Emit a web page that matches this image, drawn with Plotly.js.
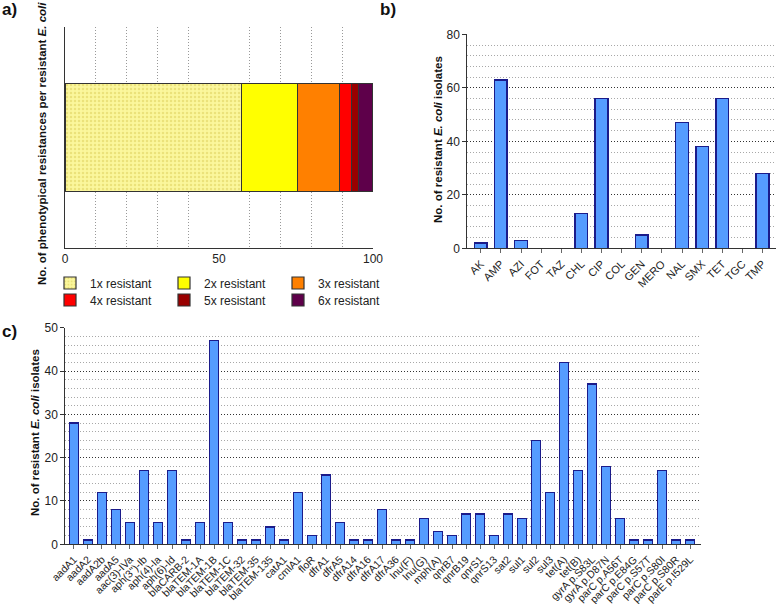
<!DOCTYPE html>
<html>
<head>
<meta charset="utf-8">
<script src="https://cdn.plot.ly/plotly-3.0.1.min.js"></script>
<style>
  html, body { margin: 0; padding: 0; background: #fff; }
  #chart { width: 777px; height: 604px; }
</style>
</head>
<body>
<div id="chart"></div>
<script>
// ---- a) phenotypical resistance count (share of resistant isolates, %) ----
const resistLevels = ['1x resistant', '2x resistant', '3x resistant', '4x resistant', '5x resistant', '6x resistant'];
const resistShare = [57.4, 18.1, 13.5, 3.9, 2.3, 4.8];
const resistColors = ['#fbf79c', '#ffff00', '#ff8000', '#ff0000', '#990000', '#5e004a'];

// ---- b) phenotypic resistance per antimicrobial ----
const drugs = ['AK', 'AMP', 'AZI', 'FOT', 'TAZ', 'CHL', 'CIP', 'COL', 'GEN', 'MERO', 'NAL', 'SMX', 'TET', 'TGC', 'TMP'];
const drugCounts = [2, 63, 3, 0, 0, 13, 56, 0, 5, 0, 47, 38, 56, 0, 28];

// ---- c) resistance genes and point mutations ----
const genes = ['aadA1', 'aadA2', 'aadA2b', 'aadA5', 'aac(3)-IVa', "aph(3'')-Ib", 'aph(4)-Ia', 'aph(6)-Id',
  'blaCARB-2', 'blaTEM-1A', 'blaTEM-1B', 'blaTEM-1C', 'blaTEM-32', 'blaTEM-35', 'blaTEM-135',
  'catA1', 'cmlA1', 'floR', 'dfrA1', 'dfrA5', 'dfrA14', 'dfrA16', 'dfrA17', 'dfrA36',
  'lnu(F)', 'lnu(G)', 'mph(A)', 'qnrB7', 'qnrB19', 'qnrS1', 'qnrS13', 'sat2', 'sul1', 'sul2', 'sul3',
  'tet(A)', 'tet(B)', 'gyrA p.S83L', 'gyrA p.D87N', 'parC p.A56T', 'parC p.E84G', 'parC p.S57T',
  'parC p.S80I', 'parC p.S80R', 'parE p.I529L'];
const geneCounts = [28, 1, 12, 8, 5, 17, 5, 17, 1, 5, 47, 5, 1, 1, 4, 1, 12, 2, 16, 5, 1, 1, 8, 1,
  1, 6, 3, 2, 7, 7, 2, 7, 6, 24, 12, 42, 17, 37, 18, 6, 1, 1, 17, 1, 1];

const W = 777, H = 604;
const FONT = 'Liberation Sans, Arial, Helvetica, sans-serif';
const INK = '#222';
const BAR_FILL = '#559cff';
const BAR_EDGE = '#1b1b8a';
const DOTS = '1px,2px';

// pixel box -> paper domain
const xd = (l, r) => [l / W, r / W];
const yd = (t, b) => [1 - b / H, 1 - t / H];
const px = v => v / W;
const py = v => 1 - v / H;

const traces = [];

resistLevels.forEach((name, i) => {
  const t = {
    type: 'bar', orientation: 'h', name: name,
    x: [resistShare[i]], y: [0], width: 0.98,
    xaxis: 'x', yaxis: 'y',
    marker: { color: resistColors[i], line: { color: '#333', width: 1.2 } },
    legend: i < 3 ? 'legend' : 'legend2',
    hoverinfo: 'name+x'
  };
  if (i === 0) {
    t.marker.pattern = { shape: '.', bgcolor: '#fbf79c', fgcolor: '#ebe27a', size: 4, solidity: 0.3 };
  }
  traces.push(t);
});

traces.push({
  type: 'bar', x: drugs, y: drugCounts, width: 0.63,
  xaxis: 'x2', yaxis: 'y2', showlegend: false,
  marker: { color: BAR_FILL, line: { color: BAR_EDGE, width: 1.5 } }
});

traces.push({
  type: 'bar', x: genes, y: geneCounts, width: 0.64,
  xaxis: 'x3', yaxis: 'y3', showlegend: false,
  marker: { color: BAR_FILL, line: { color: BAR_EDGE, width: 1.5 } }
});

const axisLine = { showline: true, linecolor: '#333', linewidth: 1, zeroline: false };

const catX = (range, size) => Object.assign({}, axisLine, {
  type: 'category', range: range, showgrid: false,
  ticks: 'outside', ticklen: 4, tickcolor: '#666', tickwidth: 1,
  tickangle: -45, tickfont: { family: FONT, size: size, color: INK }
});

const countY = (range, major, minor) => Object.assign({}, axisLine, {
  range: range, dtick: major, tick0: 0,
  ticks: 'outside', ticklen: 4, tickcolor: '#333',
  tickfont: { family: FONT, size: 12, color: INK },
  showgrid: true, gridcolor: '#333', griddash: DOTS, gridwidth: 1,
  minor: { dtick: minor, showgrid: true, gridcolor: '#a8a8a8', griddash: DOTS, gridwidth: 1, ticks: '' }
});

const legendBase = {
  orientation: 'h', x: px(50), xanchor: 'left', yanchor: 'middle',
  entrywidth: 69, entrywidthmode: 'pixels', itemwidth: 30, traceorder: 'normal',
  font: { family: FONT, size: 12, color: INK }, bgcolor: 'rgba(0,0,0,0)'
};

const layout = {
  width: W, height: H,
  margin: { l: 0, r: 0, t: 0, b: 0 },
  paper_bgcolor: '#fff', plot_bgcolor: 'rgba(0,0,0,0)',
  barmode: 'stack',
  font: { family: FONT, color: INK },
  showlegend: true,

  xaxis: Object.assign({}, axisLine, {
    domain: xd(65, 373), anchor: 'y', range: [0, 100],
    dtick: 50, showgrid: false, ticks: '',
    tickfont: { family: FONT, size: 12, color: INK },
    minor: { dtick: 10, showgrid: true, gridcolor: '#999', griddash: DOTS, gridwidth: 1, ticks: '' }
  }),
  yaxis: Object.assign({}, axisLine, {
    domain: yd(27, 248), anchor: 'x', range: [-1, 1],
    showticklabels: false, ticks: '', showgrid: false
  }),

  xaxis2: Object.assign(catX([-0.67, 14.67], 11), { domain: xd(467.3, 776), anchor: 'y2' }),
  yaxis2: Object.assign(countY([0, 80], 20, 4), { domain: yd(34.3, 248.3), anchor: 'x2' }),
  xaxis3: Object.assign(catX([-0.62, 44.78], 10.5), { domain: xd(65.3, 701), anchor: 'y3' }),
  yaxis3: Object.assign(countY([0, 50], 10, 2), { domain: yd(327.7, 544.3), anchor: 'x3' }),

  legend: Object.assign({}, legendBase, { y: py(283) }),
  legend2: Object.assign({}, legendBase, { y: py(300) }),

  annotations: [
    { text: '<b>a)</b>', x: px(0), y: py(10), xanchor: 'left', yanchor: 'middle' },
    { text: '<b>b)</b>', x: px(378), y: py(10), xanchor: 'left', yanchor: 'middle' },
    { text: '<b>c)</b>', x: px(0), y: py(331), xanchor: 'left', yanchor: 'middle' },
    { text: '<b>No. of phenotypical resistances per resistant <i>E. coli</i></b>', x: px(42), y: py(144),
      textangle: -90, fsize: 11.5 },
    { text: '<b>No. of resistant <i>E. coli</i> isolates</b>', x: px(438), y: py(140),
      textangle: -90, fsize: 11.5 },
    { text: '<b>No. of resistant <i>E. coli</i> isolates</b>', x: px(35), y: py(433),
      textangle: -90, fsize: 11.5 }
  ].map(a => {
    const size = a.fsize || 17;
    delete a.fsize;
    return Object.assign({
      xref: 'paper', yref: 'paper', showarrow: false,
      xanchor: 'center', yanchor: 'middle',
      font: { family: FONT, size: size, color: '#111' }
    }, a);
  })
};

Plotly.newPlot('chart', traces, layout, { displayModeBar: false, staticPlot: true });
</script>
</body>
</html>
